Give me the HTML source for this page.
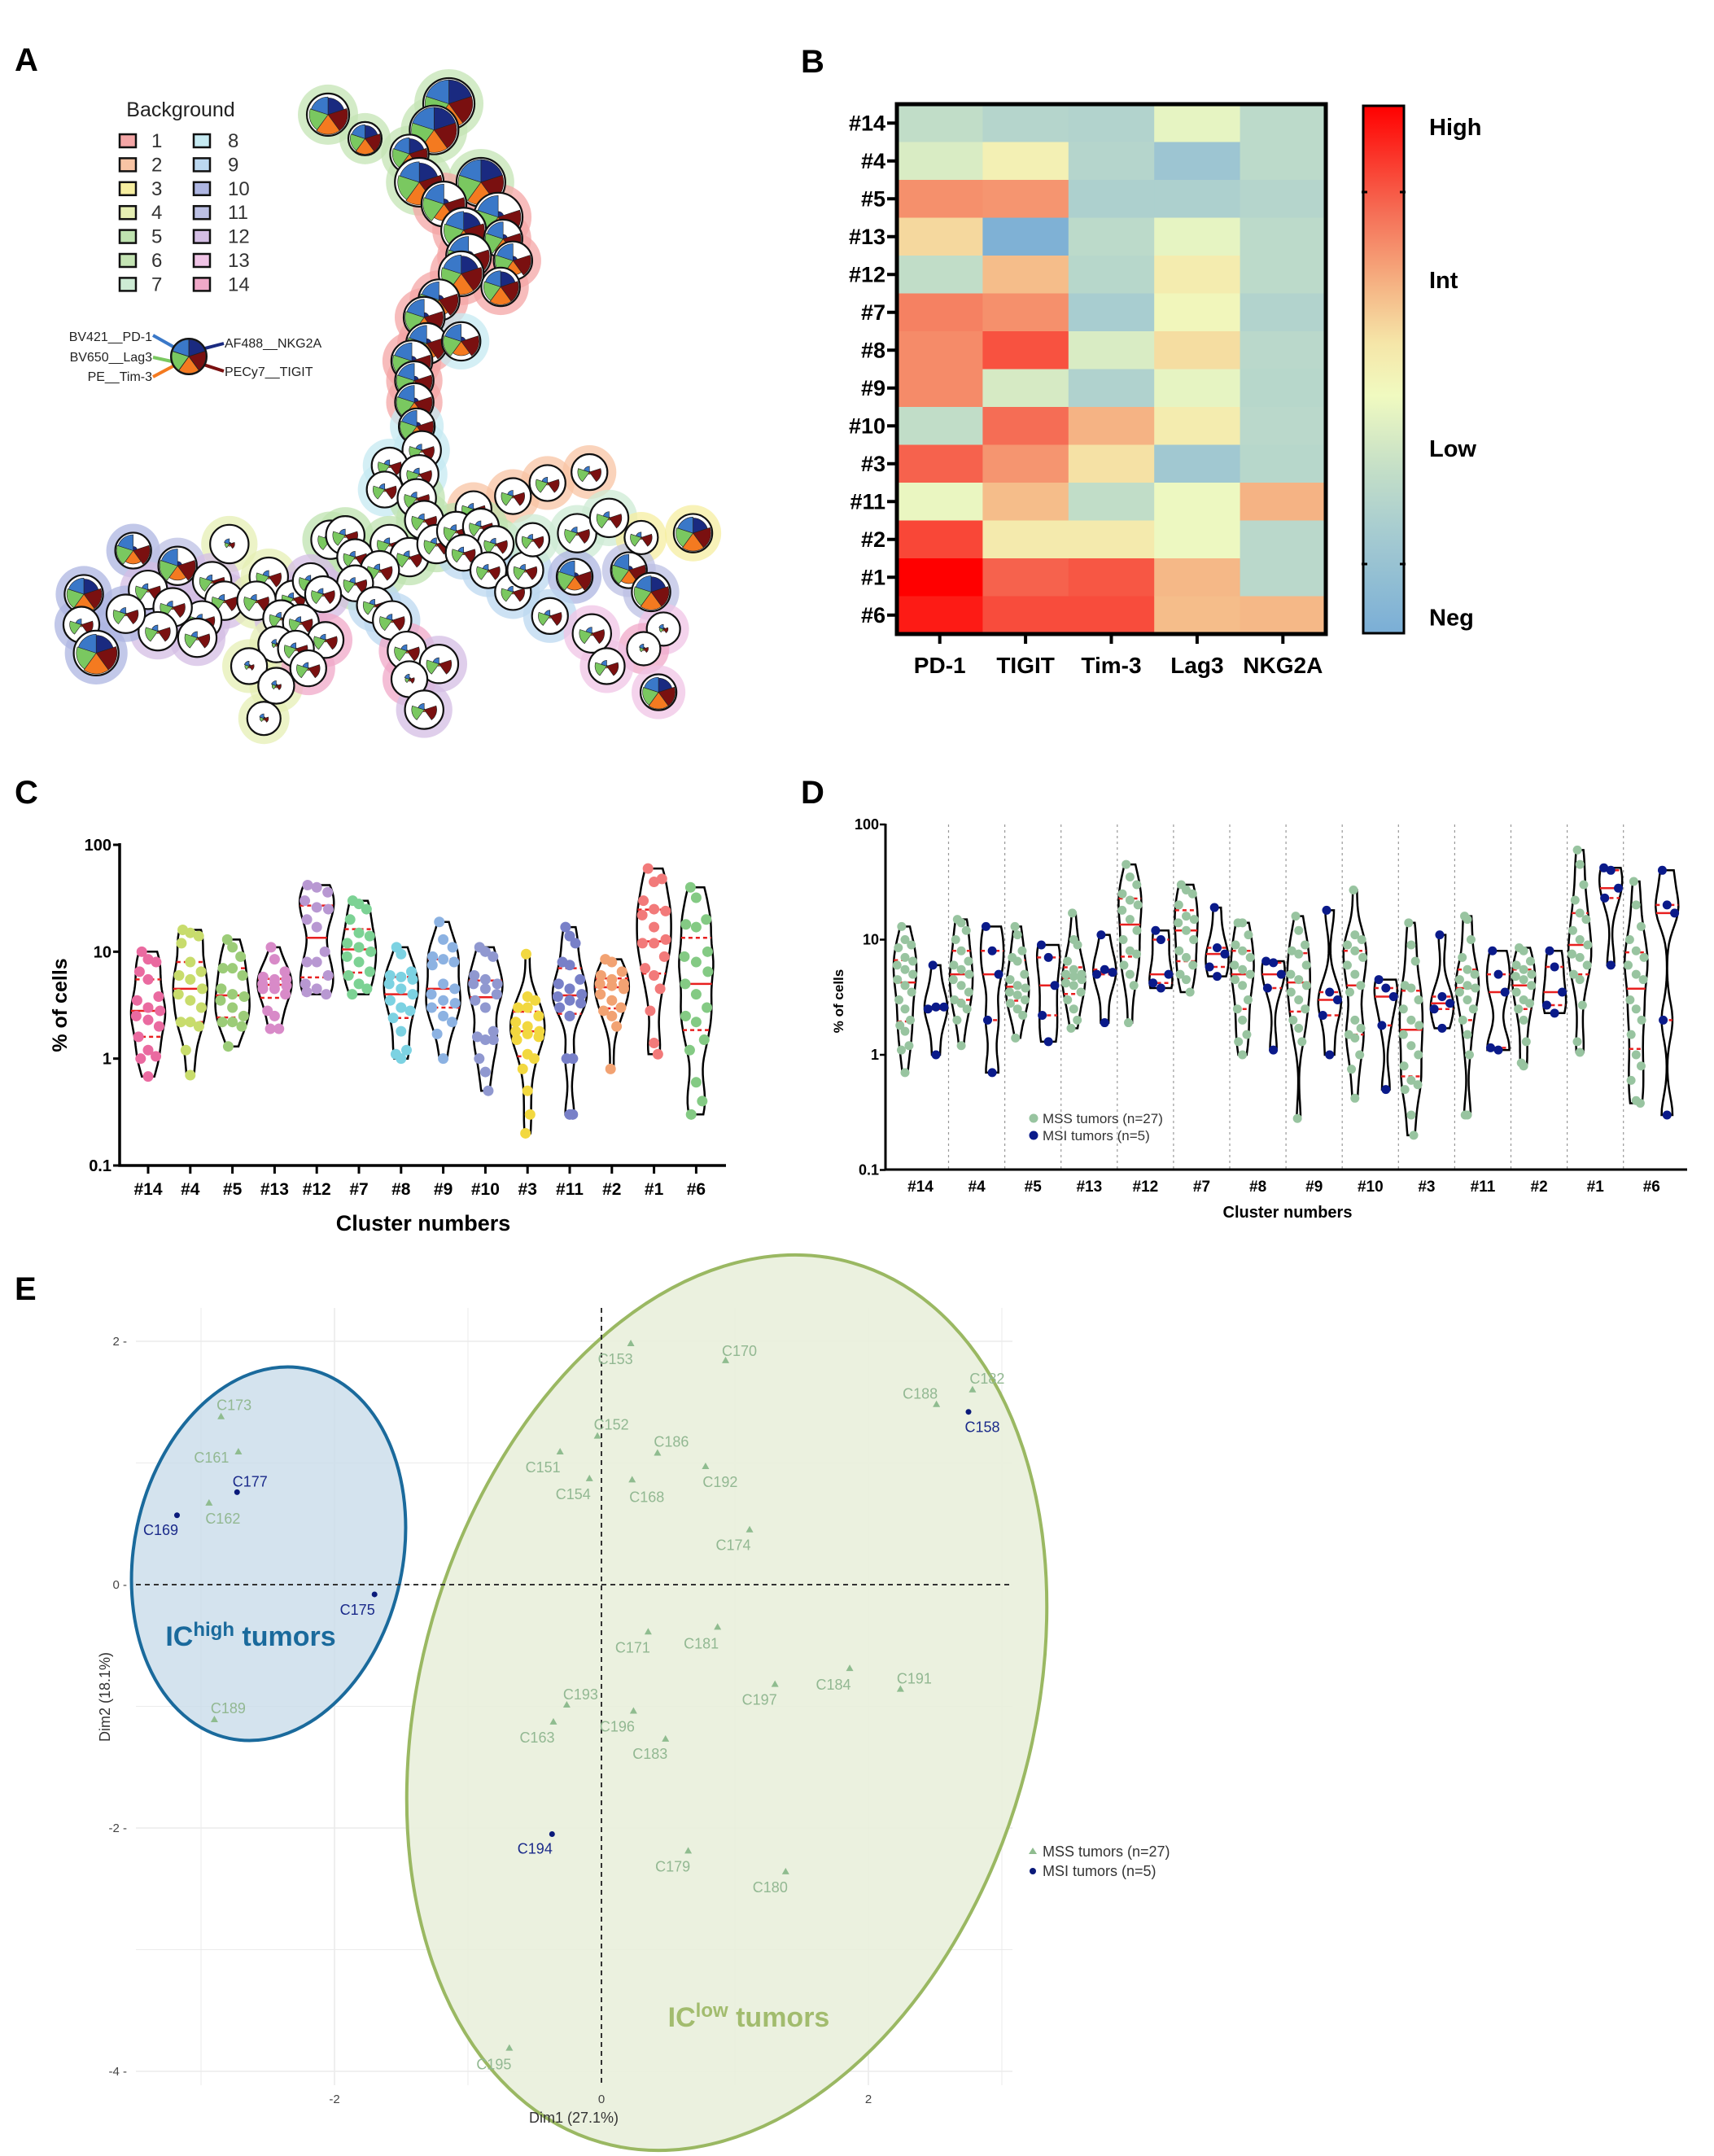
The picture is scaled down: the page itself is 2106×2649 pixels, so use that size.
<!DOCTYPE html>
<html><head><meta charset="utf-8">
<style>
html,body{margin:0;padding:0;background:#fff;}
svg{display:block;font-family:"Liberation Sans",Arial,sans-serif;}
</style></head>
<body>
<svg id="fig" width="2106" height="2649" viewBox="0 0 2106 2649" xmlns="http://www.w3.org/2000/svg">
<rect x="0" y="0" width="2106" height="2649" fill="#fff"/>
<g font-weight="bold" font-size="40" fill="#000">
<text x="18" y="87">A</text>
<text x="984" y="89">B</text>
<text x="18" y="987">C</text>
<text x="984" y="987">D</text>
<text x="18" y="1597">E</text>
</g>
<g id="pA"></g>
<g id="pB"></g>
<g id="pC"></g>
<g id="pD"></g>
<g id="pE"></g>
</svg>
<script>
// ---------- Panel B data ----------
const hmRows = ["#14","#4","#5","#13","#12","#7","#8","#9","#10","#3","#11","#2","#1","#6"];
const hmCols = ["PD-1","TIGIT","Tim-3","Lag3","NKG2A"];
const hmPD1   = [0.30,0.38,0.73,0.58,0.30,0.76,0.74,0.74,0.30,0.82,0.43,0.87,1.00,0.95];
const hmTIGIT = [0.25,0.50,0.72,0.02,0.64,0.73,0.85,0.37,0.80,0.72,0.64,0.53,0.82,0.86];
const hmTIM3  = [0.24,0.25,0.22,0.28,0.26,0.20,0.38,0.23,0.66,0.56,0.30,0.53,0.84,0.86];
const hmLAG3  = [0.42,0.15,0.22,0.42,0.52,0.47,0.57,0.42,0.52,0.17,0.44,0.44,0.65,0.64];
const hmNKG2A = [0.28,0.28,0.25,0.28,0.28,0.24,0.27,0.26,0.27,0.26,0.66,0.27,0.27,0.65];
const cbLabels = ["High","Int","Low","Neg"];
const cbLabelPos = [0.96,0.67,0.35,0.03];

// ---------- Panel C data ----------
const cClusters = ["#14","#4","#5","#13","#12","#7","#8","#9","#10","#3","#11","#2","#1","#6"];
const cColors = ["#ea6aa0","#c8dc6c","#9ccc78","#d88ac8","#b898d2","#7cd294","#7cd2e2","#8cb2e2","#9098d0","#f2d840","#7880c8","#f2a272","#f27a7a","#84ca84"];
const c14=[10,8.5,8,6.5,5.5,3.8,3.5,3,2.8,2.5,2.3,2,1.6,1.2,1.05,1,0.68];
const c4=[16,15,14,12,8,6.5,6,5.5,4.5,4,3.5,3,2.2,2.2,2,1.2,0.7];
const c5=[13,11,9,7,7,6,4.5,4,3.8,3.5,3,2.5,2.2,2.2,2,1.3];
const c13=[11,8.5,6.5,5.8,5.5,5.5,5,5,4.8,4.5,4.5,4,2.8,2.5,1.9,1.9];
const c12=[42,40,36,30,26,25,20,17,10,8,8,6,5,4.5,4,4.2];
const c7=[30,28,25,20,15,14,12,11,10,9,8,6.5,6,5,4.5,4];
const c8=[11,9.5,6.5,6,5.8,5.5,5,4.5,4,3.5,3,2.8,2.4,1.8,1.2,1.1,1];
const c9=[19,13,11,9,8.5,8,7.5,5,4.5,4,3.5,3.3,3,2.5,2.2,1.7,1];
const c10=[11,10,9,6,5.5,5,5,4.5,4,3.5,3,1.8,1.6,1.5,1.5,1,0.75,0.5];
const c3=[9.5,3.8,3.5,3,3,2.5,2.2,2,1.8,1.8,1.7,1.6,1.5,1.1,1,0.8,0.5,0.3,0.2];
const c11=[17,14,12,8,7.5,5.5,5,4.5,4,3.8,3.5,3.3,3,2.5,1,1,0.3,0.3];
const c2=[8.5,8,6.5,6,5.5,5,5,4.8,4.5,4,3.5,3,2.8,2.5,2,0.8];
const c1=[60,45,48,30,25,24,22,17,13,12,12,9,7,6,4.5,2.8,1.4,1.1];
const c6=[40,32,20,18,17,10,9,8,6.5,5,4,3,2.5,2.2,1.5,1.2,0.6,0.4,0.3];
const cValues=[c14,c4,c5,c13,c12,c7,c8,c9,c10,c3,c11,c2,c1,c6];
const logTicks=[100,10,1,0.1];
const logTickLabels=["100","10","1","0.1"];

// ---------- Panel D data ----------
const dMSS=[
[13,10,9,8.5,7,6.5,6,5.5,5,4.5,4,3.5,3,2.5,2,1.8,1.6,1.2,1.1,0.7],
[15,14,12,10,8,6.5,6,5.5,5,4.5,4,3.5,3,2.8,2.5,2,1.2],
[13,11,8,7,6.5,5,4.5,4,3.8,3.5,3.3,3,2.8,2.5,2.2,1.4],
[17,10,9,6.5,5.5,5,5,4.8,4.5,4.2,4,3.5,3,2.5,2,1.7],
[45,35,30,25,22,20,18,15,12,10,8,7.5,6,5,4,1.9],
[30,27,25,20,16,15,14,12,10,8,7,6,5,4.5,3.5],
[14,14,11,9,8,7,6,5.5,5,4.5,4,3,2.5,2,1.5,1.3,1],
[16,12,9,8,7.5,6,5,4.5,4,3.5,3,2.5,2,1.7,1.3,0.28],
[27,11,10,9,8,7,6,5,4,3.5,2,1.7,1.5,1.4,1,0.75,0.42],
[14,9,6.5,4,3.8,3,2.5,2,1.8,1.5,1.2,1,0.8,0.6,0.55,0.5,0.3,0.2],
[16,15,10,7,5.5,5,4.5,4,3.8,3.5,3,2.5,2,1.5,1,0.3,0.3],
[8.5,8,6.5,6,5.5,5,4.8,4.5,4,3.5,3,2.8,2.5,2,1.3,0.85,0.8],
[60,45,30,22,17,15,12,10,9,7.5,7,6,5,4.5,2.7,1.3,1.05],
[32,20,13,10,8,7,6,5,4.5,3,2.5,2,1.5,1,0.8,0.6,0.4,0.38]];
const dMSI=[
[6,2.6,2.6,2.5,1],[13,8,5,2,0.7],[9,7,4,2.2,1.3],[11,5.5,5.2,5,1.9],[12,10,5,4.2,3.8],
[19,8.5,7.5,5.8,4.8],[6.5,6.3,5,3.8,1.1],[18,3.5,3,2.2,1],[4.5,3.8,3.2,1.8,0.5],
[11,3.2,2.8,2.5,1.7],[8,5,3.5,1.15,1.1],[8,5.8,3.5,2.7,2.3],[42,40,28,23,6],[40,20,17,2,0.3]];

// ---------- Panel E data ----------
const eNames=["C153","C170","C182","C188","C158","C152","C186","C151","C192","C154","C168","C174","C173","C161","C177","C162","C169","C175","C171","C181","C184","C191","C197","C193","C163","C196","C183","C189","C194","C179","C180","C195"];
const eDim1=[0.22,0.93,2.78,2.51,2.75,-0.03,0.42,-0.31,0.78,-0.09,0.23,1.11,-2.85,-2.72,-2.73,-2.94,-3.18,-1.70,0.35,0.87,1.86,2.24,1.30,-0.26,-0.36,0.24,0.48,-2.90,-0.37,0.65,1.38,-0.69];
const eDim2=[1.98,1.84,1.60,1.48,1.42,1.22,1.08,1.09,0.97,0.87,0.86,0.45,1.38,1.09,0.76,0.67,0.57,-0.08,-0.39,-0.35,-0.69,-0.86,-0.82,-0.99,-1.13,-1.04,-1.27,-1.11,-2.05,-2.19,-2.36,-3.81];
const eGroup=["MSS","MSS","MSS","MSS","MSI","MSS","MSS","MSS","MSS","MSS","MSS","MSS","MSS","MSS","MSI","MSS","MSI","MSI","MSS","MSS","MSS","MSS","MSS","MSS","MSS","MSS","MSS","MSS","MSI","MSS","MSS","MSS"];
const eXTicks=[-2,0,2];
const eYTicks=[2,0,-2,-4];

const NS="http://www.w3.org/2000/svg";
function mk(tag,attrs,parent,text){const e=document.createElementNS(NS,tag);for(const k in attrs)e.setAttribute(k,attrs[k]);if(text!==undefined)e.textContent=text;parent.appendChild(e);return e;}

// ================= Panel A =================
(function(){
const g=document.getElementById('pA');
const haloCols={1:"#f4a6a6",2:"#f8c4a4",3:"#f6eea0",4:"#e6efb4",5:"#bfe3b0",6:"#c4e4b4",7:"#cdebd4",8:"#c6eaf2",9:"#bcd8f0",10:"#aeb6e2",11:"#bcc0e4",12:"#d4bee4",13:"#f0c4e6",14:"#f0a8c8"};
const wedgeCols=["#1a2a80","#7a1010","#f47a20","#7ac860","#3a78c8"];
const T={F:[1,1,1,1,1],A:[0.85,1,1,0.95,0.9],B:[0.25,1,0.8,1,0.95],C:[0.05,0.7,0.12,0.7,0.35],D:[0.1,0.3,0.12,0.25,0.3]};
const N=[[665,95,33,6,'A'],[740,150,26,6,'A'],[910,70,40,6,'F'],[880,130,38,6,'F'],[830,185,30,6,'A'],[850,250,38,6,'A'],[975,250,38,6,'F'],[900,300,35,1,'B'],[1010,330,38,1,'B'],[940,360,35,1,'A'],[1020,380,30,1,'B'],[950,420,35,1,'B'],[1040,430,30,1,'B'],[935,460,35,1,'A'],[1015,490,30,1,'A'],[890,520,32,1,'B'],[860,560,32,1,'B'],[865,620,32,1,'B'],[935,615,30,8,'B'],[835,660,32,1,'B'],[840,705,30,1,'B'],[840,755,30,1,'B'],[845,810,28,8,'B'],[855,865,30,8,'C'],[790,900,28,8,'C'],[780,955,28,8,'C'],[850,920,30,8,'C'],[845,975,30,5,'C'],[860,1025,30,5,'C'],
[960,1000,28,2,'C'],[1040,970,28,2,'C'],[1110,940,28,2,'C'],[1195,915,28,2,'C'],
[670,1070,30,5,'C'],[700,1060,30,5,'C'],[790,1080,30,5,'C'],[830,1110,30,5,'C'],[885,1080,30,5,'C'],[925,1050,30,5,'C'],[975,1040,28,5,'C'],[1005,1080,28,5,'C'],[940,1100,28,9,'C'],[720,1110,28,5,'C'],[770,1140,30,5,'C'],[720,1170,28,5,'C'],[760,1220,28,9,'C'],[795,1255,30,9,'C'],[990,1140,28,9,'C'],[1040,1190,28,9,'C'],[1065,1140,28,9,'C'],[1080,1070,26,7,'C'],[1170,1055,30,7,'C'],[1235,1020,30,7,'C'],[1300,1065,26,3,'C'],[1405,1055,30,3,'A'],[1165,1155,28,10,'B'],[1275,1140,28,11,'B'],[1320,1190,30,11,'A'],[1115,1245,28,9,'C'],[1200,1285,30,13,'C'],[1345,1275,26,13,'D'],[1305,1320,26,14,'D'],[1230,1360,28,13,'C'],[1335,1420,28,13,'A'],
[825,1325,30,14,'C'],[890,1355,30,12,'C'],[830,1390,28,14,'D'],[860,1460,30,12,'C'],
[270,1095,28,10,'B'],[360,1130,30,11,'B'],[465,1080,30,4,'D'],[430,1165,30,12,'C'],[455,1210,30,12,'C'],[410,1255,30,12,'C'],[400,1295,30,12,'C'],[300,1185,30,12,'C'],[350,1225,30,12,'C'],[320,1280,30,12,'C'],[255,1240,30,10,'C'],[170,1195,30,10,'A'],[165,1265,28,10,'C'],[195,1330,35,10,'A'],[545,1155,30,4,'C'],[520,1210,30,4,'C'],[595,1205,28,12,'C'],[630,1165,28,12,'C'],[655,1195,28,12,'C'],[570,1250,28,12,'C'],[610,1260,28,12,'C'],[660,1300,28,14,'C'],[560,1310,28,4,'D'],[600,1320,28,12,'C'],[505,1360,28,4,'D'],[560,1405,28,4,'D'],[625,1365,28,14,'C'],[535,1480,26,4,'D']];
const P=N.map(n=>({x:n[0]/1.65,y:90+n[1]/1.867,r:n[2]/1.65*1.3,h:haloCols[n[3]],t:n[4]}));
P.forEach(p=>{const c=mk('circle',{cx:p.x,cy:p.y,r:p.r+11,fill:p.h,opacity:0.75},g);

});
P.forEach(p=>{const c=mk('circle',{cx:p.x,cy:p.y,r:p.r,fill:'#fff',stroke:'#111','stroke-width':2.2},g);


const fr=T[p.t];
for(let k=0;k<5;k++){const a0=(-90+k*72)*Math.PI/180,a1=(-90+(k+1)*72)*Math.PI/180,rr=p.r*0.93*fr[k];
const d=`M${p.x},${p.y}L${p.x+rr*Math.cos(a0)},${p.y+rr*Math.sin(a0)}A${rr},${rr} 0 0 1 ${p.x+rr*Math.cos(a1)},${p.y+rr*Math.sin(a1)}Z`;
const w=mk('path',{d:d,fill:wedgeCols[k],stroke:'#222','stroke-width':0.6},g);

}});
const lt=mk('text',{x:222,y:143,'font-size':25,'text-anchor':'middle',fill:'#222'},g,'Background');


for(let i=0;i<14;i++){const col=i<7?0:1,row=i%7;const sx=col?238:147,sy=165+row*29.4;
const s=mk('rect',{x:sx,y:sy,width:20,height:16,fill:haloCols[i+1],stroke:'#111','stroke-width':2.5},g);


const t=mk('text',{x:col?280:186,y:sy+16,'font-size':24,fill:'#333'},g,String(i+1));

}
const cx=232,cy=438,r=22;
const lines=[[188,412,'#3a78c8'],[188,439,'#7ac860'],[188,463,'#f47a20'],[275,422,'#1a2a80'],[275,456,'#7a1010']];
lines.forEach(l=>{const e=mk('line',{x1:l[0],y1:l[1],x2:l[0]<cx?cx-12:cx+12,y2:l[1]<cy?cy-8:cy+8,stroke:l[2],'stroke-width':4},g);

});
const lc=mk('circle',{cx:cx,cy:cy,r:r,fill:'#fff',stroke:'#111','stroke-width':2},g);


for(let k=0;k<5;k++){const a0=(-90+k*72)*Math.PI/180,a1=(-90+(k+1)*72)*Math.PI/180,rr=r*0.95;
const w=mk('path',{d:`M${cx},${cy}L${cx+rr*Math.cos(a0)},${cy+rr*Math.sin(a0)}A${rr},${rr} 0 0 1 ${cx+rr*Math.cos(a1)},${cy+rr*Math.sin(a1)}Z`,fill:wedgeCols[k],stroke:'#222','stroke-width':0.8},g);

}
const labs=[[187,419,'end','BV421__PD-1'],[187,444,'end','BV650__Lag3'],[187,468,'end','PE__Tim-3'],[276,427,'start','AF488__NKG2A'],[276,462,'start','PECy7__TIGIT']];
labs.forEach(l=>{const t=mk('text',{x:l[0],y:l[1],'text-anchor':l[2],'font-size':16,fill:'#222'},g,l[3]);

});
})();

// ================= Panel B =================
(function(){
const g=document.getElementById('pB');
const stops=[[0,[122,174,214]],[0.2,[168,205,208]],[0.33,[201,226,198]],[0.45,[240,250,192]],[0.55,[245,230,168]],[0.65,[245,184,135]],[0.8,[245,109,85]],[1,[255,0,0]]];
function cmap(v){for(let i=1;i<stops.length;i++){if(v<=stops[i][0]){const a=stops[i-1],b=stops[i],t=(v-a[0])/(b[0]-a[0]);return `rgb(${a[1].map((c,j)=>Math.round(c+(b[1][j]-c)*t)).join(',')})`;}}return 'rgb(255,0,0)';}
const cols=[hmPD1,hmTIGIT,hmTIM3,hmLAG3,hmNKG2A];
const x0=1102,x1=1629,y0=128,y1=779,cw=(x1-x0)/5,rh=(y1-y0)/14;
cols.forEach((col,ci)=>col.forEach((v,ri)=>{const r=mk('rect',{x:x0+ci*cw,y:y0+ri*rh,width:cw+0.5,height:rh+0.5,fill:cmap(v)},g);

}));
const fr=mk('rect',{x:x0,y:y0,width:x1-x0,height:y1-y0,fill:'none',stroke:'#000','stroke-width':5},g);


hmRows.forEach((l,ri)=>{const yy=y0+(ri+0.5)*rh;
const tk=mk('line',{x1:x0-12,x2:x0,y1:yy,y2:yy,stroke:'#000','stroke-width':4},g);


const t=mk('text',{x:x0-14,y:yy+9,'text-anchor':'end','font-size':27,'font-weight':'bold'},g,l);

});
hmCols.forEach((l,ci)=>{const xx=x0+(ci+0.5)*cw;
const tk=mk('line',{x1:xx,x2:xx,y1:y1,y2:y1+12,stroke:'#000','stroke-width':4},g);


const t=mk('text',{x:xx,y:827,'text-anchor':'middle','font-size':28,'font-weight':'bold'},g,l);

});
const defs=mk('defs',{},g);
const lg=mk('linearGradient',{id:'cbg',x1:0,y1:1,x2:0,y2:0},defs);
for(let i=0;i<=20;i++){mk('stop',{offset:i/20,'stop-color':cmap(i/20)},lg);}
const cb=mk('rect',{x:1675,y:130,width:50,height:648,fill:'url(#cbg)',stroke:'#000','stroke-width':3},g);


[236,693].forEach(yy=>{[[1673,1680],[1720,1727]].forEach(s=>{const l=mk('line',{x1:s[0],x2:s[1],y1:yy,y2:yy,stroke:'#000','stroke-width':3},g);

});});
cbLabels.forEach((l,i)=>{const yy=778-cbLabelPos[i]*648;
const t=mk('text',{x:1756,y:yy+10,'font-size':29,'font-weight':'bold'},g,l);

});
})();

// ============ violin helper ============
function violin(g,vals,cx,yfn,hw,fill,stroke,dotR,name){
const L=vals.map(v=>Math.log10(v)),mn=Math.min(...L),mx=Math.max(...L),bw=0.16;
const n=40,pts=[];let md=0;
for(let i=0;i<=n;i++){const t=mn+(mx-mn)*i/n;let d=0;L.forEach(l=>d+=Math.exp(-0.5*((t-l)/bw)**2));pts.push([t,d]);md=Math.max(md,d);}
let right=pts.map(p=>[cx+p[1]/md*hw,yfn(Math.pow(10,p[0]))]);
let left=pts.slice().reverse().map(p=>[cx-p[1]/md*hw,yfn(Math.pow(10,p[0]))]);
const d='M'+right.concat(left).map(p=>p[0].toFixed(1)+','+p[1].toFixed(1)).join('L')+'Z';
const v=mk('path',{d:d,fill:'none',stroke:'#000','stroke-width':2.5},g);


const s=vals.slice().sort((a,b)=>a-b);
function q(p){const i=(s.length-1)*p,lo=Math.floor(i),hi=Math.ceil(i);return s[lo]+(s[hi]-s[lo])*(i-lo);}
const dens=l=>{let d=0;L.forEach(x=>d+=Math.exp(-0.5*((l-x)/bw)**2));return d/md;};
[[0.5,''],[0.25,'5,4'],[0.75,'5,4']].forEach(qq=>{const val=q(qq[0]),w=dens(Math.log10(val))*hw;
const ln=mk('line',{x1:cx-w,x2:cx+w,y1:yfn(val),y2:yfn(val),stroke:'#e82020','stroke-width':2.5,'stroke-dasharray':qq[1]},g);

});
vals.forEach((val,j)=>{const w=dens(Math.log10(val))*hw;const off=((j%3)-1)*w*0.7;
const c=mk('circle',{cx:cx+off,cy:yfn(val),r:dotR,fill:fill},g);

});
}

// ================= Panel C =================
(function(){
const g=document.getElementById('pC');
const yC=v=>1432-(Math.log10(v)+1)/3*(1432-1038);
const xC=i=>182+i*51.8;
cValues.forEach((vals,i)=>violin(g,vals,xC(i),yC,21,cColors[i],'#000',6.5,'cluster-'+cClusters[i].slice(1)));
const ax=mk('path',{d:'M147,1036L147,1432L892,1432',fill:'none',stroke:'#000','stroke-width':3.5},g);


logTicks.forEach((v,i)=>{const l=mk('line',{x1:139,x2:147,y1:yC(v),y2:yC(v),stroke:'#000','stroke-width':3},g);


const t=mk('text',{x:137,y:yC(v)+7,'text-anchor':'end','font-size':20,'font-weight':'bold'},g,logTickLabels[i]);

});
cClusters.forEach((c,i)=>{const l=mk('line',{x1:xC(i),x2:xC(i),y1:1432,y2:1442,stroke:'#000','stroke-width':3},g);


const t=mk('text',{x:xC(i),y:1468,'text-anchor':'middle','font-size':21,'font-weight':'bold'},g,c);

});
const xt=mk('text',{x:520,y:1512,'text-anchor':'middle','font-size':27,'font-weight':'bold'},g,'Cluster numbers');


const yt=mk('text',{x:0,y:0,transform:'translate(82,1235) rotate(-90)','text-anchor':'middle','font-size':25,'font-weight':'bold'},g,'% of cells');


})();

// ================= Panel D =================
(function(){
const g=document.getElementById('pD');
const yD=v=>1437.5-(Math.log10(v)+1)/3*(1437.5-1013);
const xD=i=>1131+i*69.1;
for(let i=0;i<13;i++){const l=mk('line',{x1:xD(i)+34.5,x2:xD(i)+34.5,y1:1013,y2:1437,stroke:'#999','stroke-width':1.2,'stroke-dasharray':'3,4'},g);

}
dMSS.forEach((vals,i)=>violin(g,vals,xD(i)-19,yD,14,'#98c4a0','#000',5.5,'mss-'+cClusters[i].slice(1)));
dMSI.forEach((vals,i)=>violin(g,vals,xD(i)+19,yD,14,'#0a1a8a','#000',5.5,'msi-'+cClusters[i].slice(1)));
const ax=mk('path',{d:'M1088,1012L1088,1437L2073,1437',fill:'none',stroke:'#000','stroke-width':3},g);


logTicks.forEach((v,i)=>{const l=mk('line',{x1:1081,x2:1088,y1:yD(v),y2:yD(v),stroke:'#000','stroke-width':2.5},g);


const t=mk('text',{x:1080,y:yD(v)+6,'text-anchor':'end','font-size':18,'font-weight':'bold'},g,logTickLabels[i]);

});
cClusters.forEach((c,i)=>{const t=mk('text',{x:xD(i),y:1464,'text-anchor':'middle','font-size':19,'font-weight':'bold'},g,c);

});
const xt=mk('text',{x:1582,y:1496,'text-anchor':'middle','font-size':20,'font-weight':'bold'},g,'Cluster numbers');


const yt=mk('text',{x:0,y:0,transform:'translate(1036,1230) rotate(-90)','text-anchor':'middle','font-size':17,'font-weight':'bold'},g,'% of cells');


[[1374,'#98c4a0','MSS tumors (n=27)'],[1395,'#0a1a8a','MSI tumors (n=5)']].forEach(l=>{
const c=mk('circle',{cx:1270,cy:l[0],r:5.5,fill:l[1]},g);


const t=mk('text',{x:1281,y:l[0]+6,'font-size':17,fill:'#333'},g,l[2]);

});
})();

// ================= Panel E =================
(function(){
const g=document.getElementById('pE');
const xE=d=>739+d*164, yE=d=>1947-d*149.5;
for(let k=-3;k<=3;k++){const l=mk('line',{x1:xE(k),x2:xE(k),y1:1607,y2:2562,stroke:'#ebebeb','stroke-width':k%2===0?1.6:1},g);

}
for(let k=-4;k<=2;k++){const l=mk('line',{x1:167,x2:1244,y1:yE(k),y2:yE(k),stroke:'#ebebeb','stroke-width':k%2===0?1.6:1},g);

}
const ge=mk('ellipse',{cx:893,cy:2092,rx:376,ry:562,transform:'rotate(16 893 2092)',fill:'#e9f0dc',stroke:'#9ab862','stroke-width':4,'fill-opacity':0.9},g);


const be=mk('ellipse',{cx:330,cy:1909,rx:165,ry:232,transform:'rotate(12 330 1909)',fill:'#c9dcea','fill-opacity':0.8,stroke:'#1a6a9c','stroke-width':4},g);


const hz=mk('line',{x1:167,x2:1244,y1:yE(0),y2:yE(0),stroke:'#333','stroke-width':2,'stroke-dasharray':'6,5'},g);


const vz=mk('line',{x1:xE(0),x2:xE(0),y1:1607,y2:2562,stroke:'#333','stroke-width':2,'stroke-dasharray':'6,5'},g);


const off={C153:[-19,19],C170:[17,-12],C182:[18,-14],C188:[-20,-13],C158:[17,19],C152:[17,-14],C186:[17,-14],C151:[-21,19],C192:[18,19],C154:[-20,19],C168:[18,21],C174:[-20,19],C173:[16,-14],C161:[-33,7],C177:[16,-13],C162:[17,19],C169:[-20,18],C175:[-21,19],C171:[-19,19],C181:[-20,20],C184:[-20,20],C191:[17,-13],C197:[-19,19],C193:[17,-13],C163:[-20,19],C196:[-20,19],C183:[-19,18],C189:[17,-14],C194:[-21,18],C179:[-19,19],C180:[-19,19],C195:[-19,20]};
eNames.forEach((n,i)=>{const x=xE(eDim1[i]),y=yE(eDim2[i]),msi=eGroup[i]==='MSI';
let m;
if(msi){m=mk('circle',{cx:x,cy:y,r:3.5,fill:'#0a1a7a'},g);}
else{m=mk('path',{d:`M${x},${y-5}L${x+4.5},${y+3}L${x-4.5},${y+3}Z`,fill:'#8fbc8f'},g);}


const o=off[n]||[0,18];
const t=mk('text',{x:x+o[0],y:y+o[1]+6,'text-anchor':'middle','font-size':18,fill:msi?'#1a2a8a':'#92b892'},g,n);

});
const th=mk('text',{x:308,y:2022,'text-anchor':'middle','font-size':34,'font-weight':'bold',fill:'#1a6a9c'},g);


th.innerHTML='IC<tspan dy="-12" font-size="24">high</tspan><tspan dy="12"> tumors</tspan>';
const tl=mk('text',{x:920,y:2490,'text-anchor':'middle','font-size':34,'font-weight':'bold',fill:'#a2bc6e'},g);


tl.innerHTML='IC<tspan dy="-12" font-size="24">low</tspan><tspan dy="12"> tumors</tspan>';
eYTicks.forEach(v=>{const t=mk('text',{x:156,y:yE(v)+5,'text-anchor':'end','font-size':15,fill:'#444'},g,v+' -');

});
eXTicks.forEach(v=>{const t=mk('text',{x:xE(v),y:2584,'text-anchor':'middle','font-size':15,fill:'#444'},g,String(v));

});
const xt=mk('text',{x:705,y:2608,'text-anchor':'middle','font-size':18,fill:'#333'},g,'Dim1 (27.1%)');


const yt=mk('text',{x:0,y:0,transform:'translate(135,2085) rotate(-90)','text-anchor':'middle','font-size':18,fill:'#333'},g,'Dim2 (18.1%)');


const lm=mk('path',{d:'M1269,2270L1274,2278L1264,2278Z',fill:'#8fbc8f'},g);


const l1=mk('text',{x:1281,y:2281,'font-size':18,fill:'#333'},g,'MSS tumors (n=27)');


const lm2=mk('circle',{cx:1269,cy:2299,r:4,fill:'#0a1a7a'},g);


const l2=mk('text',{x:1281,y:2305,'font-size':18,fill:'#333'},g,'MSI tumors (n=5)');


})();
</script>
</body></html>
